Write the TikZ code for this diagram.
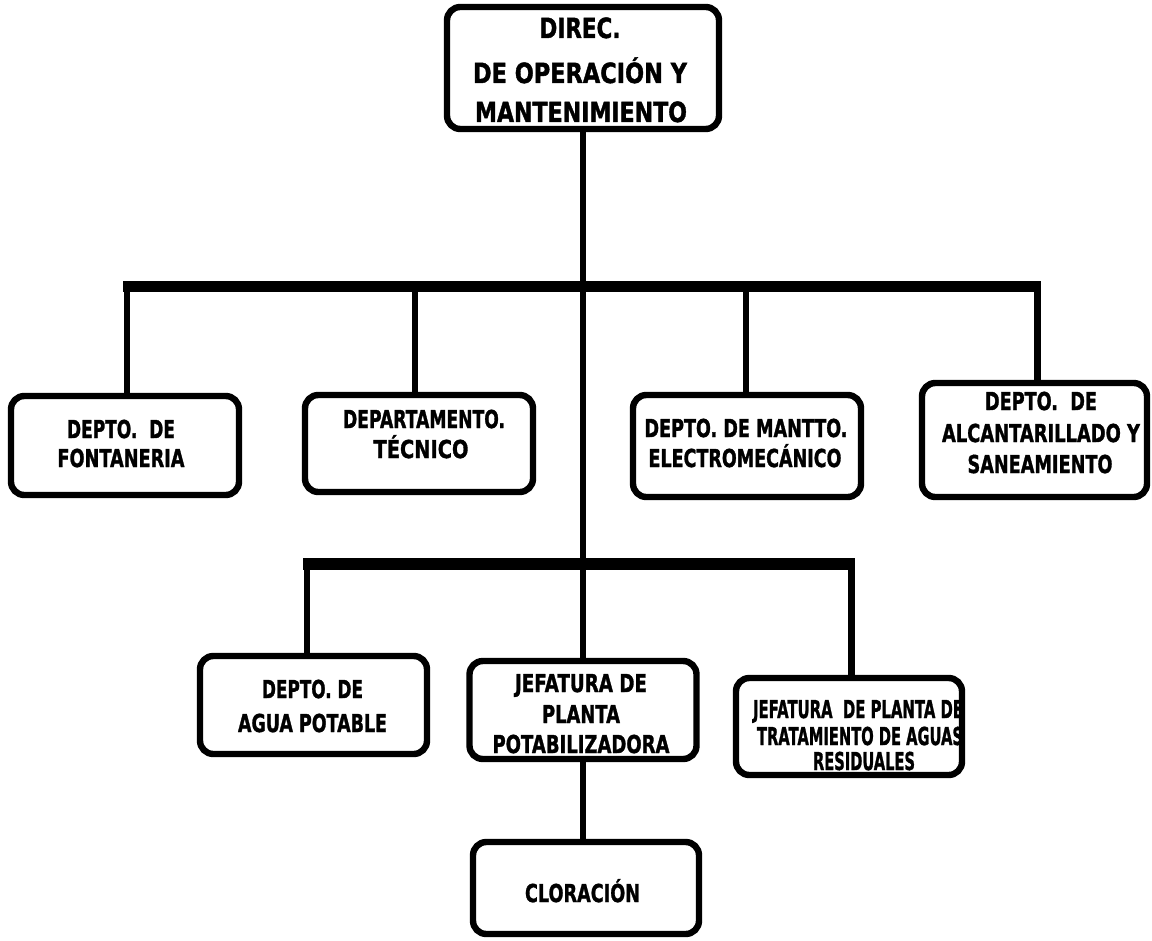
\documentclass[tikz,border=0pt]{standalone}
\usepackage{fontspec}
\usepackage{graphicx}
\newfontfamily\dvs[FakeBold=1.6]{DejaVu Sans Bold}
\newsavebox\fitbox
\newcommand\fitw[2]{\sbox\fitbox{#2}\pgfmathsetmacro\fitr{#1*0.75/\the\wd\fitbox}\scalebox{\fitr}[1]{\usebox\fitbox}}
\tikzset{
  orgbox/.style={draw, line width=4.8pt, rounded corners=10pt, inner sep=0pt, outer sep=0pt},
  wh/.style 2 args={minimum width=#1*0.75pt, minimum height=#2*0.75pt},
  barline/.style={line width=8.6pt},
  dropline/.style={line width=5pt},
  lbl/.style={anchor=base, inner sep=0pt, outer sep=0pt, font=\dvs\fontsize{18.5}{20}\selectfont},
  biglbl/.style={lbl, font=\dvs\fontsize{20.8}{22}\selectfont}
}
\begin{document}
\begin{tikzpicture}[x=0.75pt,y=-0.75pt]
\useasboundingbox (0,0) rectangle (1152,941);
% boxes
\node[orgbox, wh={272}{122}] (top) at (583,68) {};
\node[orgbox, wh={228}{99}] (b1) at (125,445.5) {};
\node[orgbox, wh={228}{97}] (b2) at (419,443.5) {};
\node[orgbox, wh={228}{102}] (b3) at (747,446) {};
\node[orgbox, wh={225}{114}] (b4) at (1034.5,440) {};
\node[orgbox, wh={227}{98}] (b5) at (313.5,705) {};
\node[orgbox, wh={227}{98}] (b6) at (583,710) {};
\node[orgbox, wh={226}{97}] (b7) at (849,726.5) {};
\node[orgbox, wh={226}{92}] (b8) at (586,888) {};
% bars and drop points
\coordinate (h1L) at (123,286.5);
\coordinate (h1R) at (1041,286.5);
\coordinate (d1) at (127,286.5);
\coordinate (d2) at (415,286.5);
\coordinate (d3) at (746,286.5);
\coordinate (d4) at (1037.5,286.5);
\coordinate (h2L) at (303,564);
\coordinate (h2R) at (855,564);
\coordinate (d5) at (307,564);
\coordinate (d7) at (851.5,564);
\draw[barline] (h1L) -- (h1R);
\draw[barline] (h2L) -- (h2R);
\draw[dropline] (top.south) -- (b6.north);
\draw[dropline] (b6.south) -- (b6.south |- b8.north);
\draw[dropline] (d1) -- (d1 |- b1.north);
\draw[dropline] (d2) -- (d2 |- b2.north);
\draw[dropline] (d3) -- (d3 |- b3.north);
\draw[dropline] (d4) -- (d4 |- b4.north);
\draw[dropline] (d5) -- (d5 |- b5.north);
\draw[dropline] (d7) -- (d7 |- b7.north);
% texts
\node[biglbl] (t0a) at (580,38) {\fitw{81}{DIREC.}};
\node[biglbl] (t0b) at (580,83) {\fitw{214}{DE OPERACIÓN Y}};
\node[biglbl] (t0c) at (581,122) {\fitw{212}{MANTENIMIENTO}};
\node[lbl] (t1a) at (121,438) {\fitw{108}{DEPTO.\ \ DE}};
\node[lbl] (t1b) at (121,467) {\fitw{127}{FONTANERIA}};
\node[lbl] (t2a) at (424,428) {\fitw{162}{DEPARTAMENTO.}};
\node[lbl] (t2b) at (421,458) {\fitw{95}{TÉCNICO}};
\node[lbl] (t3a) at (746,437) {\fitw{203}{DEPTO. DE MANTTO.}};
\node[lbl] (t3b) at (745,467) {\fitw{193}{ELECTROMECÁNICO}};
\node[lbl] (t4a) at (1041,410) {\fitw{112}{DEPTO.\ \ DE}};
\node[lbl] (t4b) at (1041,442) {\fitw{198}{ALCANTARILLADO Y}};
\node[lbl] (t4c) at (1040,473) {\fitw{145}{SANEAMIENTO}};
\node[lbl] (t5a) at (312.5,698) {\fitw{101}{DEPTO. DE}};
\node[lbl] (t5b) at (312.5,732) {\fitw{149}{AGUA POTABLE}};
\node[lbl] (t6a) at (581,692) {\fitw{132}{JEFATURA DE}};
\node[lbl] (t6b) at (581,723) {\fitw{78}{PLANTA}};
\node[lbl] (t6c) at (581,753) {\fitw{177}{POTABILIZADORA}};
\node[lbl] (t7a) at (858,718) {\fitw{210}{JEFATURA\ \ DE PLANTA DE}};
\node[lbl] (t7b) at (860,745) {\fitw{206}{TRATAMIENTO DE AGUAS}};
\node[lbl] (t7c) at (864,770) {\fitw{102}{RESIDUALES}};
\node[lbl] (t8a) at (582.5,902) {\fitw{115}{CLORACIÓN}};
\end{tikzpicture}
\end{document}
